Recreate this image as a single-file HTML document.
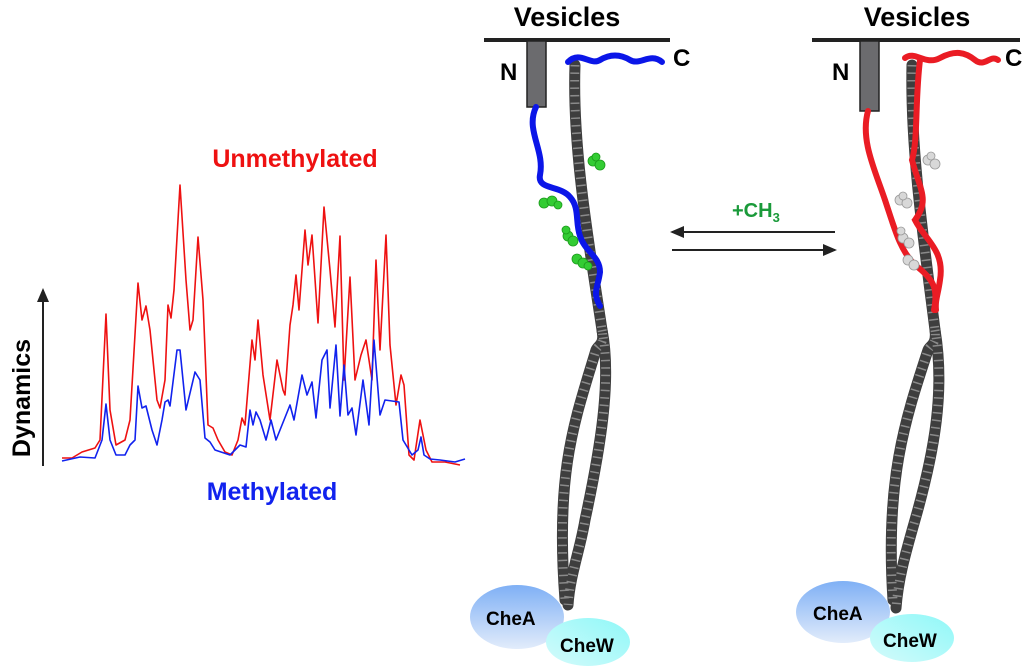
<!DOCTYPE html>
<html><head><meta charset="utf-8"><style>
body{margin:0;background:#fff;}
svg{display:block;font-family:"Liberation Sans",Arial,sans-serif;font-weight:bold;}
</style></head><body>
<svg width="1024" height="668" viewBox="0 0 1024 668" xmlns="http://www.w3.org/2000/svg">
<defs>
<linearGradient id="ga" x1="0" y1="0" x2="0" y2="1"><stop offset="0" stop-color="#7fb0f5"/><stop offset="1" stop-color="#e2ecfb"/></linearGradient>
<linearGradient id="gw" x1="1" y1="0" x2="0" y2="1"><stop offset="0" stop-color="#8ff8f8"/><stop offset="1" stop-color="#d4fbfb"/></linearGradient>
<marker id="ah2" markerWidth="14" markerHeight="12" refX="12" refY="6" orient="auto" markerUnits="userSpaceOnUse"><path d="M0,0 L14,6 L0,12 z" fill="#222"/></marker>
</defs>

<!-- Plot -->
<line x1="43" y1="466" x2="43" y2="290" stroke="#222" stroke-width="2" marker-end="url(#ah2)"/>
<text x="30" y="398" font-size="25" text-anchor="middle" transform="rotate(-90 30 398)" fill="#000">Dynamics</text>
<text x="295" y="167" font-size="25" text-anchor="middle" fill="#e11">Unmethylated</text>
<text x="272" y="500" font-size="25" text-anchor="middle" fill="#12e">Methylated</text>
<polyline fill="none" stroke="#e11" stroke-width="1.6" stroke-linejoin="round" points="62,458 72,458 82,452 95,448 100,440 106,314 110,410 116,445 125,440 130,420 138,283 142,320 146,306 150,330 157,400 160,408 165,380 168,305 171,318 174,290 180,185 186,280 190,330 193,320 198,237 203,300 208,425 213,428 218,440 225,452 232,455 238,440 242,418 245,425 252,340 255,360 258,320 263,375 270,420 277,360 283,390 285,395 290,325 293,305 296,275 299,310 305,230 308,265 312,235 318,323 324,207 330,270 335,327 340,236 344,380 350,277 355,380 361,355 366,340 372,380 376,260 380,350 386,235 390,345 396,405 401,375 404,385 409,455 414,460 420,420 426,450 432,462 445,462 460,465"/>
<polyline fill="none" stroke="#12e" stroke-width="1.6" stroke-linejoin="round" points="62,461 80,457 95,458 102,440 106,404 110,440 116,455 125,455 130,445 135,440 138,386 142,408 146,406 152,430 157,445 162,420 165,402 168,400 170,406 177,350 180,350 186,410 195,372 200,380 205,438 210,442 215,450 230,455 240,445 246,447 250,410 253,425 256,412 260,420 266,440 271,420 276,440 280,430 290,405 294,420 302,375 307,395 312,382 316,418 322,360 327,350 330,408 336,345 340,416 344,365 348,415 352,408 356,435 363,380 369,425 374,340 380,415 385,400 399,402 403,440 412,455 418,450 421,437 424,455 430,459 440,460 455,462 465,459"/>

<!-- Left protein -->
<text x="567" y="26" font-size="27" text-anchor="middle">Vesicles</text>
<line x1="484" y1="40" x2="670" y2="40" stroke="#222" stroke-width="4"/>
<rect x="527" y="41" width="19" height="66" fill="#6b6b6e" stroke="#222" stroke-width="1.5"/>
<text x="500" y="80" font-size="24">N</text>
<text x="673" y="66" font-size="24">C</text>
<g fill="none">
<path d="M575,65 C572,150 590,250 602,330 C605,345 598,345 596,350 C575,420 555,470 565,600" stroke="#3e3e3e" stroke-width="11" stroke-linecap="round"/>
<path d="M602,330 C612,380 600,450 585,520 C580,550 570,575 568,605" stroke="#3e3e3e" stroke-width="11" stroke-linecap="round"/>
<path d="M575,65 C572,150 590,250 602,330 C605,345 598,345 596,350 C575,420 555,470 565,600 M602,330 C612,380 600,450 585,520 C580,550 570,575 568,605" stroke="#8a8a8a" stroke-width="9" stroke-dasharray="1.5 6" stroke-linecap="butt"/>
<path d="M536,107 C525,130 545,150 540,175 C537,190 560,185 570,197 C580,208 575,222 580,236 C585,252 600,256 600,272 C598,288 592,292 600,306" stroke="#0b16e8" stroke-width="6" stroke-linecap="round"/>
<path d="M568,62 C580,50 590,66 600,60 S620,54 630,60 S650,52 662,62" stroke="#0b16e8" stroke-width="6" stroke-linecap="round"/>
</g>
<g fill="#33cc33" stroke="#1a9a1a" stroke-width="0.8">
<circle cx="593" cy="161" r="5"/><circle cx="600" cy="165" r="5"/><circle cx="596" cy="157" r="4"/>
<circle cx="544" cy="203" r="5"/><circle cx="552" cy="201" r="5"/><circle cx="558" cy="205" r="4"/>
<circle cx="568" cy="236" r="5"/><circle cx="573" cy="241" r="5"/><circle cx="566" cy="230" r="4"/>
<circle cx="577" cy="259" r="5"/><circle cx="583" cy="263" r="5"/><circle cx="588" cy="266" r="4"/>
</g>
<ellipse cx="517" cy="617" rx="47" ry="32" fill="url(#ga)"/>
<ellipse cx="588" cy="642" rx="42" ry="24" fill="url(#gw)"/>
<text x="486" y="625" font-size="19">CheA</text>
<text x="560" y="652" font-size="19">CheW</text>

<!-- Arrows -->
<text x="732" y="217" font-size="20" fill="#1a9a3a">+CH<tspan font-size="13" dy="5">3</tspan></text>
<line x1="835" y1="232" x2="672" y2="232" stroke="#222" stroke-width="2" marker-end="url(#ah2)"/>
<line x1="672" y1="250" x2="835" y2="250" stroke="#222" stroke-width="2" marker-end="url(#ah2)"/>

<!-- Right protein -->
<text x="917" y="26" font-size="27" text-anchor="middle">Vesicles</text>
<line x1="812" y1="40" x2="1020" y2="40" stroke="#222" stroke-width="4"/>
<rect x="860" y="41" width="19" height="70" fill="#6b6b6e" stroke="#222" stroke-width="1.5"/>
<text x="832" y="80" font-size="24">N</text>
<text x="1005" y="66" font-size="24">C</text>
<g fill="none">
<path d="M912,65 C910,150 925,250 935,330 C937,345 930,345 928,350 C905,420 885,480 893,600" stroke="#3e3e3e" stroke-width="11" stroke-linecap="round"/>
<path d="M935,330 C945,390 935,450 915,520 C905,555 898,580 896,608" stroke="#3e3e3e" stroke-width="11" stroke-linecap="round"/>
<path d="M912,65 C910,150 925,250 935,330 C937,345 930,345 928,350 C905,420 885,480 893,600 M935,330 C945,390 935,450 915,520 C905,555 898,580 896,608" stroke="#8a8a8a" stroke-width="9" stroke-dasharray="1.5 6" stroke-linecap="butt"/>
<path d="M868,111 C860,140 875,170 885,200 C895,230 900,250 915,265 C935,280 938,290 934,310" stroke="#ea1c24" stroke-width="6" stroke-linecap="round"/>
<path d="M920,60 C915,100 918,140 912,160 C920,190 930,200 915,220 C925,240 945,250 940,280 C938,295 935,300 936,310" stroke="#ea1c24" stroke-width="6" stroke-linecap="round"/>
<path d="M905,58 C915,50 925,66 940,58 S965,52 975,60 S990,54 998,60" stroke="#ea1c24" stroke-width="6" stroke-linecap="round"/>
</g>
<g fill="#d8d8d8" stroke="#999" stroke-width="0.8">
<circle cx="928" cy="160" r="5"/><circle cx="935" cy="164" r="5"/><circle cx="931" cy="156" r="4"/>
<circle cx="900" cy="200" r="5"/><circle cx="907" cy="203" r="5"/><circle cx="903" cy="196" r="4"/>
<circle cx="903" cy="238" r="5"/><circle cx="909" cy="243" r="5"/><circle cx="901" cy="231" r="4"/>
<circle cx="908" cy="260" r="5"/><circle cx="914" cy="265" r="5"/>
</g>
<ellipse cx="843" cy="612" rx="47" ry="31" fill="url(#ga)"/>
<ellipse cx="912" cy="638" rx="42" ry="24" fill="url(#gw)"/>
<text x="813" y="620" font-size="19">CheA</text>
<text x="883" y="647" font-size="19">CheW</text>
</svg>
</body></html>
